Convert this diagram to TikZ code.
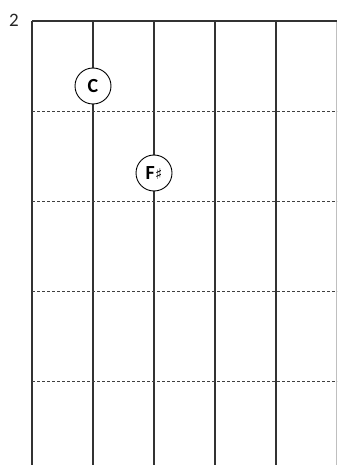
\documentclass[tikz,border=0pt]{standalone}
\usepackage{fontspec}
\setmainfont{Carlito}
\newfontfamily\symfont{DejaVu Sans}
\usetikzlibrary{positioning}
\tikzset{
	string_line/.style={draw=black!80, line width=1.4pt},
	nut_line/.style={draw=black!80, line width=1.4pt},
	fret_line/.style={draw=black!75, line width=0.7pt, densely dashed},
	edge_line/.style={draw=black!25, line width=0.6pt},
	note_dot/.style={circle, draw=black, fill=white, line width=0.9pt, minimum size=36pt, inner sep=0pt, font=\bfseries\fontsize{20}{20}\selectfont},
	fret_num/.style={font=\fontsize{19}{19}\selectfont, text=black!85}
}

\begin{document}
\begin{tikzpicture}[x=1pt, y=-1pt]
	\useasboundingbox (0,0) rectangle (337,465);
	% strings
	\foreach \s/\x in {1/32, 2/93, 3/154, 4/215, 5/276} {
		\coordinate (top\s) at (\x,21);
		\coordinate (bot\s) at (\x,465);
		\draw[string_line] (top\s) -- (bot\s);
	}
	\coordinate (topR) at (336.5,21);
	\coordinate (botR) at (336.5,465);
	\draw[edge_line] (topR) -- (botR);
	% frets
	\foreach \f/\y in {1/111, 2/201, 3/291, 4/381} {
		\coordinate (fl\f) at (32,\y);
		\coordinate (fr\f) at (337,\y);
		\draw[fret_line] (fl\f) -- (fr\f);
	}
	\draw[nut_line] (top1) -- (topR);
	\node[fret_num] (pos) at (14,20) {2};
	% notes
	\node[note_dot] (noteC) at (93,86) {C};
	\node[note_dot] (noteFs) at (154,173) {F\hspace{0.5pt}{\symfont\mdseries\fontsize{15}{15}\selectfont ♯}};
\end{tikzpicture}
\end{document}
